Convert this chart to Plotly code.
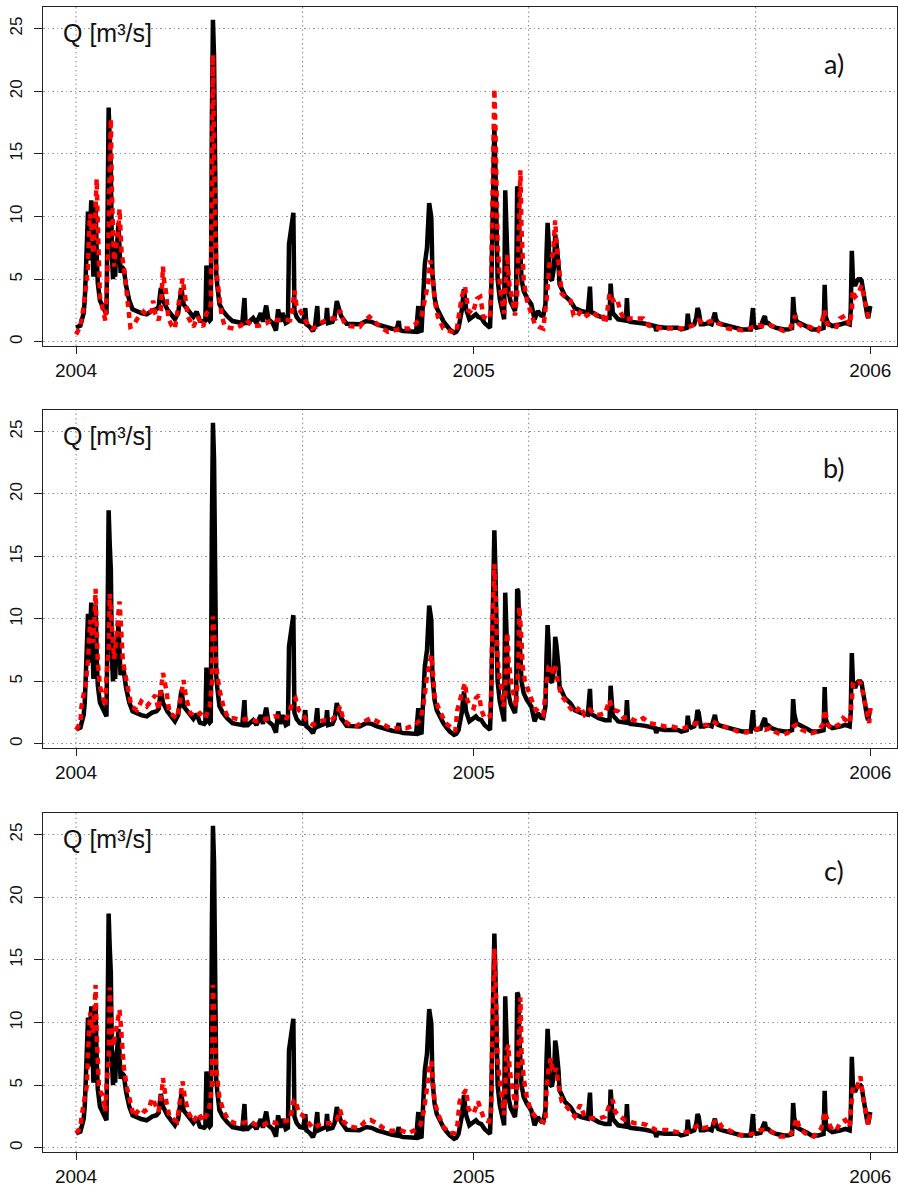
import pandas as pd
import plotly.graph_objects as go

START = pd.Timestamp("2004-01-01")

# Observed discharge: day index (days since 2004-01-01) and Q [m3/s]
obs_day = [0, 2, 4, 7, 8, 9, 10, 11, 12, 13, 14, 15, 16, 17, 18, 19, 20, 22, 25, 27,
           28, 29, 30, 31, 32, 33, 34, 35, 36, 37, 38, 39, 40, 41, 42, 44, 46, 49, 52, 56,
           60, 65, 70, 74, 76, 78, 80, 84, 88, 91, 94, 97, 99, 103, 108, 111, 114, 118, 119, 120,
           121, 123, 124, 125, 126, 127, 128, 129, 130, 132, 135, 139, 144, 149, 153, 155, 156, 158, 163, 166,
           170, 172, 175, 177, 181, 184, 186, 188, 190, 193, 195, 196, 200, 201, 203, 206, 209, 211, 212, 215,
           218, 220, 222, 223, 227, 230, 231, 232, 236, 238, 240, 242, 244, 249, 255, 261, 267, 272, 277, 282,
           286, 291, 295, 297, 298, 301, 305, 310, 313, 315, 316, 318, 320, 321, 323, 325, 326, 327, 328, 330,
           332, 335, 338, 341, 344, 348, 350, 352, 355, 357, 359, 362, 365, 368, 370, 373, 376, 378, 381, 382,
           383, 384, 385, 386, 387, 388, 390, 392, 394, 395, 396, 397, 398, 400, 401, 404, 405, 406, 407, 408,
           410, 412, 415, 419, 421, 422, 425, 428, 430, 432, 433, 434, 435, 436, 438, 440, 441, 442, 444, 445,
           450, 455, 459, 465, 471, 473, 474, 481, 487, 491, 492, 493, 494, 499, 505, 506, 507, 508, 510, 514,
           519, 524, 529, 533, 534, 535, 542, 548, 554, 557, 562, 563, 564, 566, 569, 571, 572, 573, 575, 578,
           582, 585, 587, 588, 589, 591, 595, 600, 603, 608, 613, 618, 621, 623, 624, 626, 630, 633, 634, 635,
           637, 640, 645, 652, 656, 659, 660, 661, 663, 666, 669, 673, 677, 683, 688, 689, 690, 692, 696, 700,
           704, 708, 712, 713, 714, 715, 717, 719, 720, 722, 723, 725, 726, 728, 729, 731]
obs_q = [1.15, 1.2, 1.3, 2.3, 3.3, 5.5, 9.0, 10.4, 6.5, 9.0, 11.3, 8.0, 5.2, 9.5, 11.1, 7.0, 4.7, 3.3, 2.8, 2.3,
         2.2, 10.0, 18.7, 16.0, 14.0, 7.0, 5.0, 6.5, 5.2, 7.5, 8.0, 9.5, 7.0, 5.5, 6.0, 5.8, 4.5, 3.3, 2.6, 2.4,
         2.3, 2.2, 2.5, 2.6, 2.8, 4.3, 3.3, 2.6, 2.2, 1.8, 2.3, 4.3, 3.0, 2.5, 2.0, 2.4, 1.7, 1.6, 1.7, 6.1,
         2.0, 1.7, 1.8, 17.5, 25.7, 22.8, 9.0, 5.5, 4.5, 3.0, 2.5, 2.06, 1.66, 1.6, 1.5, 3.5, 1.5, 1.5, 1.9, 1.5,
         2.3, 1.6, 2.9, 1.8, 1.5, 0.9, 2.6, 1.6, 2.3, 1.5, 1.6, 7.8, 10.3, 2.5, 2.0, 1.66, 1.6, 2.7, 1.4, 1.2,
         0.86, 1.3, 2.86, 1.4, 1.5, 1.66, 2.7, 1.5, 1.6, 2.0, 3.26, 2.6, 2.06, 1.44, 1.4, 1.4, 1.66, 1.6, 1.4, 1.25,
         1.12, 1.05, 0.99, 1.66, 0.95, 0.86, 0.85, 0.78, 0.8, 2.86, 0.85, 0.9, 5.5, 6.2, 7.5, 11.07, 10.5, 9.9, 5.4, 3.5,
         2.7, 2.1, 1.66, 1.3, 0.99, 0.72, 0.8, 1.1, 2.5, 4.2, 2.6, 1.8, 2.0, 2.2, 2.0, 1.9, 1.5, 1.3, 1.12, 3.5,
         7.0, 14.0, 17.1, 13.8, 6.2, 5.0, 3.4, 2.4, 1.8, 12.1, 9.0, 6.0, 4.0, 3.2, 3.0, 2.46, 3.5, 12.4, 12.2, 8.9,
         5.0, 4.06, 3.5, 3.0, 2.3, 1.8, 2.46, 2.1, 2.06, 3.0, 7.0, 9.5, 8.0, 5.1, 4.9, 6.0, 8.56, 8.0, 6.2, 4.6,
         3.66, 3.26, 2.7, 2.46, 2.33, 4.4, 2.4, 2.06, 1.9, 1.9, 4.65, 3.2, 2.3, 1.8, 1.66, 1.7, 3.5, 1.8, 1.6, 1.52,
         1.5, 1.44, 1.35, 1.26, 0.86, 1.2, 1.12, 1.1, 1.12, 0.99, 1.1, 2.25, 1.5, 1.3, 1.4, 2.0, 2.7, 2.5, 1.4, 1.4,
         1.5, 1.4, 2.0, 2.33, 1.8, 1.52, 1.4, 1.3, 1.26, 1.1, 0.99, 0.99, 0.99, 2.7, 1.3, 1.12, 1.2, 1.9, 2.06, 1.5,
         1.5, 1.26, 1.1, 0.99, 1.0, 1.1, 3.58, 2.4, 1.66, 1.5, 1.4, 1.2, 0.99, 0.99, 1.1, 4.55, 2.0, 1.5, 1.26, 1.3,
         1.4, 1.52, 1.4, 2.5, 7.27, 5.0, 4.47, 4.9, 5.0, 5.0, 4.87, 3.8, 3.0, 2.2, 1.9, 2.86]

# Simulated discharge, model a
sim_a_day = [0, 4, 7, 10, 11, 12, 13, 14, 15, 16, 17, 18, 19, 20, 21, 22, 24, 26, 27, 28,
             29, 30, 31, 32, 33, 34, 35, 36, 37, 38, 39, 40, 41, 42, 44, 45, 47, 48, 50, 53,
             56, 59, 62, 65, 68, 70, 71, 73, 76, 78, 80, 81, 83, 85, 88, 91, 94, 96, 98, 100,
             103, 106, 108, 112, 114, 117, 120, 123, 124, 125, 126, 127, 128, 129, 130, 131, 134, 137, 141, 145,
             149, 152, 157, 162, 169, 175, 181, 185, 189, 197, 199, 200, 201, 203, 206, 210, 214, 217, 221, 227,
             233, 239, 243, 247, 253, 261, 266, 270, 275, 280, 287, 293, 300, 307, 313, 318, 321, 324, 326, 328,
             330, 333, 338, 342, 346, 350, 353, 355, 358, 361, 365, 367, 369, 372, 375, 378, 381, 382, 383, 384,
             385, 386, 387, 388, 389, 390, 392, 394, 395, 396, 397, 398, 399, 402, 404, 406, 407, 408, 409, 410,
             411, 412, 415, 418, 422, 426, 430, 433, 436, 439, 440, 441, 442, 444, 445, 447, 450, 455, 458, 461,
             465, 470, 475, 479, 484, 487, 489, 491, 494, 498, 501, 505, 510, 514, 518, 522, 527, 533, 542, 550,
             557, 564, 568, 573, 577, 582, 587, 591, 596, 600, 608, 613, 619, 625, 628, 634, 639, 643, 651, 657,
             662, 665, 669, 675, 679, 683, 686, 689, 691, 695, 700, 703, 708, 712, 714, 715, 717, 720, 723, 726,
             729, 730]
sim_a_q = [0.6, 1.24, 2.8, 4.9, 6.0, 9.0, 10.2, 9.3, 8.0, 7.0, 8.5, 11.0, 13.0, 9.5, 4.65, 3.6, 2.8, 1.9, 1.7, 3.5,
           5.5, 9.0, 14.0, 17.8, 12.0, 8.0, 6.0, 7.0, 7.5, 8.5, 9.0, 10.6, 8.0, 7.0, 6.0, 5.1, 3.3, 2.26, 1.2, 1.3,
           1.8, 2.1, 2.4, 2.1, 2.3, 2.5, 3.3, 2.2, 1.73, 2.5, 6.0, 4.9, 3.85, 1.86, 1.3, 1.06, 2.8, 4.0, 5.05, 3.85,
           2.0, 1.5, 1.2, 2.0, 1.6, 1.2, 2.26, 2.5, 3.0, 17.0, 22.9, 15.0, 9.0, 6.0, 5.0, 4.1, 2.1, 1.2, 1.1, 1.06,
           1.2, 1.3, 1.73, 1.25, 1.3, 1.46, 1.86, 1.73, 1.78, 1.73, 2.5, 3.3, 4.1, 2.8, 2.5, 1.86, 1.3, 1.06, 1.2, 1.6,
           1.86, 1.86, 2.5, 1.46, 1.25, 1.2, 1.73, 2.0, 1.6, 1.2, 0.8, 0.93, 1.06, 1.06, 1.46, 2.1, 3.3, 4.65, 6.5, 5.45,
           3.3, 2.0, 1.06, 0.9, 0.8, 0.8, 2.8, 3.6, 4.4, 2.5, 2.26, 2.8, 3.45, 3.6, 2.0, 1.86, 1.9, 4.65, 9.0, 15.0,
           20.2, 17.0, 11.0, 7.5, 6.5, 4.5, 3.3, 2.26, 4.0, 6.25, 7.0, 5.5, 4.4, 3.3, 2.1, 3.85, 7.0, 11.0, 13.7, 9.0,
           6.0, 4.9, 3.3, 2.5, 1.46, 1.2, 1.06, 3.3, 6.5, 7.0, 8.5, 9.7, 8.1, 6.0, 4.9, 3.85, 3.6, 3.3, 2.1, 2.0,
           2.5, 2.1, 2.4, 2.1, 2.26, 1.46, 2.5, 3.85, 3.3, 3.45, 2.4, 1.73, 1.86, 1.86, 1.86, 1.86, 1.3, 1.14, 1.06, 1.06,
           1.06, 1.2, 1.33, 1.73, 1.46, 1.6, 1.73, 1.46, 1.33, 1.06, 0.93, 0.93, 1.06, 1.2, 1.33, 1.2, 1.33, 1.2, 0.88, 1.06,
           2.1, 1.46, 1.2, 1.2, 1.06, 0.88, 1.46, 2.5, 1.46, 1.2, 1.2, 1.86, 2.1, 1.33, 2.5, 4.1, 3.6, 3.85, 4.5, 3.3,
           2.0, 1.6]

# Simulated discharge, model b
sim_b_day = [0, 4, 5, 7, 9, 11, 12, 13, 14, 15, 16, 17, 18, 19, 20, 22, 24, 27, 28, 30,
             31, 32, 33, 34, 35, 36, 37, 38, 39, 40, 41, 42, 43, 45, 48, 51, 56, 60, 65, 70,
             73, 76, 79, 80, 83, 86, 93, 96, 99, 101, 105, 110, 114, 119, 123, 125, 126, 127, 128, 129,
             132, 136, 140, 145, 152, 159, 166, 172, 178, 182, 188, 194, 200, 202, 205, 208, 212, 218, 224, 229,
             235, 240, 243, 246, 252, 258, 266, 271, 277, 283, 289, 295, 304, 312, 317, 320, 323, 326, 327, 329,
             330, 333, 340, 346, 349, 351, 353, 356, 358, 360, 363, 366, 368, 371, 373, 376, 381, 382, 383, 384,
             385, 386, 387, 388, 390, 392, 393, 395, 396, 397, 398, 401, 404, 405, 407, 408, 410, 411, 413, 416,
             419, 422, 427, 430, 433, 435, 437, 439, 441, 444, 447, 450, 455, 459, 464, 468, 473, 478, 482, 487,
             491, 494, 499, 504, 508, 513, 517, 522, 528, 534, 542, 548, 554, 560, 567, 571, 576, 582, 586, 591,
             596, 602, 609, 617, 625, 629, 634, 639, 643, 649, 655, 660, 663, 668, 672, 677, 683, 688, 689, 692,
             695, 702, 706, 709, 712, 714, 715, 718, 721, 723, 726, 728, 730, 731]
sim_b_q = [1.12, 1.66, 3.0, 4.06, 4.9, 6.7, 8.5, 9.9, 9.0, 8.5, 8.1, 10.0, 12.4, 9.0, 6.6, 4.6, 3.8, 3.0, 5.4, 7.5,
           12.0, 10.5, 8.5, 7.85, 6.8, 7.5, 8.4, 9.0, 10.5, 11.4, 10.0, 8.9, 6.7, 5.67, 4.06, 3.0, 2.7, 3.4, 3.0, 3.66,
           3.9, 2.7, 5.1, 5.67, 4.33, 2.46, 2.06, 3.8, 5.1, 3.8, 2.46, 2.2, 2.46, 2.06, 3.0, 4.87, 10.2, 9.0, 7.0, 6.2,
           4.33, 2.86, 2.06, 2.06, 1.9, 2.06, 1.8, 1.9, 2.06, 2.2, 2.2, 2.06, 3.5, 3.66, 2.7, 2.46, 1.9, 1.52, 1.8, 1.9,
           1.9, 2.33, 3.0, 1.9, 1.52, 1.44, 1.8, 2.06, 1.8, 1.52, 1.26, 1.26, 1.26, 1.52, 1.9, 3.26, 5.4, 6.7, 7.1, 5.1,
           3.8, 3.0, 1.66, 1.26, 0.99, 2.73, 3.5, 4.33, 4.87, 3.5, 3.0, 2.86, 3.66, 3.9, 2.73, 2.06, 2.2, 4.06, 8.9, 12.5,
           14.4, 12.0, 8.9, 6.7, 5.0, 4.33, 3.0, 3.5, 8.07, 8.9, 6.7, 4.6, 3.5, 3.0, 6.2, 11.0, 8.3, 6.2, 5.1, 4.33,
           3.5, 2.86, 2.46, 2.33, 4.87, 6.2, 6.3, 5.67, 6.2, 4.7, 3.8, 3.5, 2.86, 2.46, 3.0, 2.33, 2.73, 2.33, 2.33, 2.46,
           3.5, 2.73, 2.6, 2.06, 2.2, 1.9, 1.8, 2.06, 1.66, 1.52, 1.4, 1.4, 1.26, 1.26, 1.52, 1.66, 1.52, 1.52, 1.8, 1.52,
           1.4, 1.26, 0.99, 0.91, 1.12, 1.26, 1.12, 1.26, 0.99, 0.72, 0.86, 1.4, 1.52, 1.12, 0.99, 0.86, 0.99, 1.66, 2.73, 1.52,
           1.26, 1.52, 2.06, 1.9, 1.66, 3.5, 4.73, 4.6, 5.0, 4.6, 3.5, 2.46, 1.66, 2.86]

# Simulated discharge, model c
sim_c_day = [0, 4, 5, 7, 10, 11, 12, 13, 14, 15, 16, 17, 18, 19, 20, 21, 23, 25, 27, 28,
             30, 31, 32, 33, 34, 35, 37, 39, 40, 41, 42, 44, 47, 50, 53, 59, 63, 67, 70, 73,
             76, 79, 80, 83, 86, 93, 96, 98, 100, 103, 108, 113, 117, 122, 123, 125, 126, 127, 128, 129,
             132, 136, 140, 146, 152, 159, 166, 172, 178, 185, 191, 197, 200, 202, 205, 208, 212, 218, 224, 229,
             234, 240, 243, 246, 252, 260, 266, 271, 277, 283, 290, 298, 306, 312, 317, 320, 323, 325, 327, 329,
             330, 333, 338, 344, 348, 351, 353, 356, 359, 361, 363, 366, 370, 373, 376, 380, 382, 383, 384, 385,
             386, 387, 388, 390, 392, 394, 395, 396, 398, 399, 401, 404, 405, 407, 408, 409, 410, 412, 415, 419,
             424, 429, 432, 433, 435, 437, 438, 440, 442, 444, 447, 450, 455, 459, 464, 468, 473, 478, 482, 487,
             491, 494, 496, 501, 505, 510, 514, 519, 525, 534, 544, 551, 557, 564, 568, 573, 577, 584, 588, 591,
             594, 600, 610, 617, 625, 630, 634, 640, 648, 656, 660, 663, 666, 671, 679, 683, 686, 689, 692, 696,
             700, 703, 708, 712, 714, 715, 719, 722, 724, 726, 729, 731]
sim_c_q = [1.17, 1.57, 2.5, 3.7, 5.0, 7.7, 9.5, 10.8, 10.0, 9.5, 9.2, 11.0, 13.0, 9.0, 6.36, 5.0, 4.36, 4.2, 2.9, 5.0,
           6.9, 12.8, 11.0, 9.0, 8.1, 8.5, 9.4, 10.5, 11.0, 10.0, 8.5, 6.4, 4.76, 3.43, 2.5, 3.16, 2.9, 3.16, 3.96, 3.43,
           2.9, 4.5, 5.56, 3.7, 2.5, 2.1, 4.23, 5.3, 4.1, 2.9, 2.1, 2.76, 2.1, 2.9, 3.43, 5.0, 13.0, 10.0, 8.0, 6.36,
           3.96, 2.9, 2.23, 1.97, 1.97, 2.1, 1.83, 1.83, 2.1, 1.97, 2.1, 2.23, 3.7, 3.83, 2.76, 2.63, 2.23, 1.57, 1.83, 1.97,
           1.97, 2.23, 3.03, 2.1, 1.7, 1.57, 2.1, 2.23, 1.97, 1.57, 1.35, 1.43, 1.17, 1.43, 1.83, 2.9, 4.76, 6.36, 6.9, 5.3,
           3.7, 2.76, 1.7, 1.17, 1.17, 1.83, 3.7, 4.23, 4.63, 3.16, 2.9, 2.76, 3.7, 2.9, 2.23, 2.1, 2.9, 9.0, 13.0, 15.9,
           14.0, 10.1, 6.9, 5.3, 3.7, 2.63, 4.23, 7.7, 8.2, 6.36, 5.0, 3.7, 3.16, 6.9, 10.9, 12.0, 7.7, 5.56, 3.96, 2.9,
           2.37, 2.1, 1.97, 4.5, 6.5, 7.15, 6.36, 5.96, 6.36, 5.0, 3.7, 3.43, 2.9, 2.5, 3.43, 2.5, 2.37, 2.37, 2.37, 2.5,
           3.43, 3.83, 2.9, 2.5, 2.23, 2.1, 1.97, 1.97, 1.83, 1.43, 1.43, 1.3, 1.17, 1.3, 1.57, 1.83, 1.57, 1.7, 2.1, 2.23,
           1.7, 1.43, 1.03, 1.03, 1.17, 1.43, 1.43, 1.3, 0.9, 0.9, 1.43, 2.37, 1.57, 1.17, 0.9, 1.3, 1.57, 2.9, 2.1, 1.43,
           1.43, 1.97, 2.23, 1.7, 3.7, 5.0, 4.9, 5.7, 4.23, 3.43, 1.83, 2.9]

year_ticks = ["2004-01-01", "2005-01-01", "2006-01-01"]
year_labels = ["2004", "2005", "2006"]
q_ticks = [0, 5, 10, 15, 20, 25]
panel_labels = ["a)", "b)", "c)"]


def to_dates(days):
    return [START + pd.Timedelta(days=d) for d in days]


W, H = 898, 1188
X_LEFT, X_RIGHT = 43, 897
PANEL_TOPS = [7, 410, 813]
PANEL_BOTTOMS = [346, 748, 1152]
X_RANGE = ["2003-12-01 14:00", "2006-01-25 14:00"]
Y_RANGE = [-0.33, 26.72]
VGRID = to_dates([0, 208.5, 416.5, 625.5])

TICK_FONT = "Liberation Sans, Arial, sans-serif"
GRID_COLOR = "#9a9a9a"
GRID_DASH = "1.5px,3px"

fig = go.Figure()
sims = [(sim_a_day, sim_a_q), (sim_b_day, sim_b_q), (sim_c_day, sim_c_q)]
shapes = []
annotations = []
layout_axes = {}

for i, (sd, sq) in enumerate(sims, start=1):
    sfx = "" if i == 1 else str(i)
    xa, ya = "x" + sfx, "y" + sfx
    fig.add_trace(go.Scatter(
        x=to_dates(obs_day), y=obs_q, mode="lines",
        line=dict(color="#000000", width=4.5),
        xaxis=xa, yaxis=ya, showlegend=False, hoverinfo="skip"))
    fig.add_trace(go.Scatter(
        x=to_dates(sd), y=sq, mode="lines",
        line=dict(color="#ff0000", width=4.5, dash="6px,5px"),
        xaxis=xa, yaxis=ya, showlegend=False, hoverinfo="skip"))

    top, bot = PANEL_TOPS[i - 1], PANEL_BOTTOMS[i - 1]
    layout_axes["xaxis" + sfx] = dict(
        domain=[X_LEFT / W, X_RIGHT / W], anchor=ya, range=X_RANGE,
        tickmode="array", tickvals=year_ticks, ticktext=year_labels,
        ticks="outside", ticklen=7, tickwidth=1.2, tickcolor="#222",
        showgrid=False, zeroline=False,
        showline=True, mirror=True, linecolor="#222", linewidth=1.4,
        tickfont=dict(family=TICK_FONT, size=19, color="#111"))
    layout_axes["yaxis" + sfx] = dict(
        domain=[1 - bot / H, 1 - top / H], anchor=xa, range=Y_RANGE,
        tickmode="array", tickvals=q_ticks, ticktext=[str(v) for v in q_ticks],
        ticks="outside", ticklen=8, tickwidth=1.2, tickcolor="#222",
        tickangle=-90, ticklabelstandoff=5,
        showgrid=True, gridcolor=GRID_COLOR, griddash=GRID_DASH, gridwidth=1.2,
        zeroline=False,
        showline=True, mirror=True, linecolor="#222", linewidth=1.4,
        tickfont=dict(family=TICK_FONT, size=17, color="#111"))

    for gx in VGRID:
        shapes.append(dict(type="line", xref=xa, yref=ya + " domain",
                           x0=gx, x1=gx, y0=0, y1=1, layer="below",
                           line=dict(color=GRID_COLOR, width=1.2, dash=GRID_DASH)))

    annotations.append(dict(
        text="Q [m³/s]", xref="paper", yref="paper",
        x=61 / W, y=1 - (top + 26) / H, xanchor="left", yanchor="middle",
        showarrow=False, font=dict(family=TICK_FONT, size=25, color="#111")))
    annotations.append(dict(
        text=panel_labels[i - 1], xref="paper", yref="paper",
        x=834 / W, y=1 - (top + 57) / H, xanchor="center", yanchor="middle",
        showarrow=False, font=dict(family="Lato, Open Sans, sans-serif", size=27, color="#111")))

fig.update_layout(
    width=W, height=H,
    margin=dict(l=0, r=0, t=0, b=0),
    paper_bgcolor="white", plot_bgcolor="white",
    shapes=shapes, annotations=annotations,
    **layout_axes)

fig.write_html("out.html")
